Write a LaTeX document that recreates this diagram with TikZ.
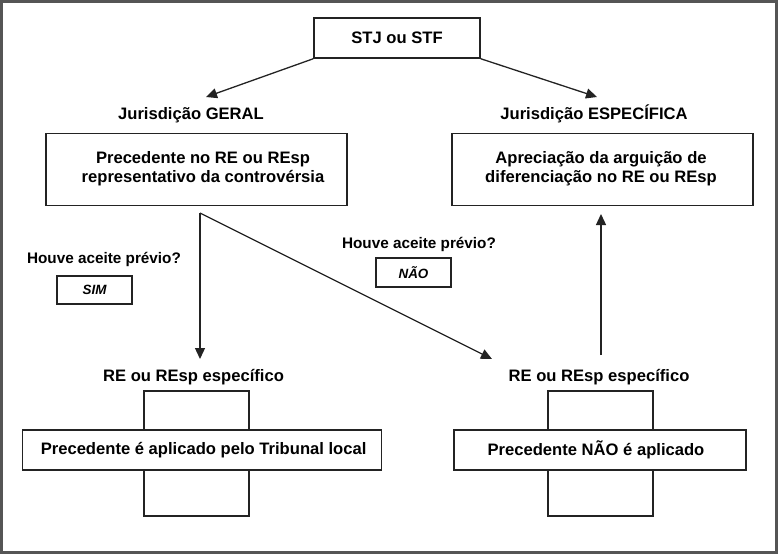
\documentclass[tikz,border=0pt]{standalone}
\usepackage{fontspec}
\setmainfont{Liberation Sans}
\usetikzlibrary{arrows.meta}
\definecolor{frame}{RGB}{85,85,85}
\definecolor{ink}{RGB}{35,35,35}
\begin{document}
\begin{tikzpicture}[x=1pt,y=-1pt,
  box/.style={draw=ink,line width=1.5pt,fill=white,inner sep=0pt},
  txt/.style={inner sep=0pt,font=\fontsize{16.6}{19}\selectfont\bfseries,text=black},
  small/.style={inner sep=0pt,font=\fontsize{15.3}{18}\selectfont\bfseries,text=black},
  ans/.style={box,font=\fontsize{13.4}{16}\selectfont\bfseries\itshape},
  arr/.style={draw=ink,line width=1.3pt,-{Triangle[length=11pt,width=10pt]}}]
\useasboundingbox (0,0) rectangle (778,554);
\draw[frame,line width=3pt] (1.5,1.5) rectangle (776.5,552.5);

% top
\node[box,txt,minimum width=166pt,minimum height=40pt] (stj) at (397,38) {STJ ou STF};
\coordinate (tipG) at (206,97);
\coordinate (tipE) at (597,97);
\draw[arr] (stj.south west) -- (tipG);
\draw[arr] (stj.south east) -- (tipE);

\node[txt,anchor=base] (geral) at (191,119) {Jurisdição GERAL};
\node[txt,anchor=base] (espec) at (594,119) {Jurisdição ESPECÍFICA};

% second row boxes
\node[box,minimum width=301pt,minimum height=72pt] (prec) at (196.5,169.5) {};
\node[txt,align=center] (prectxt) at (203,169) {Precedente no RE ou REsp\\representativo da controvérsia};
\node[box,minimum width=301pt,minimum height=72pt] (apre) at (602.5,169.5) {};
\node[txt,align=center] (apretxt) at (601,169) {Apreciação da arguição de\\diferenciação no RE ou REsp};

% questions
\node[small,anchor=base] (q1) at (104,263.5) {Houve aceite prévio?};
\node[ans,minimum width=75pt,minimum height=28pt] (sim) at (94.5,290) {SIM};
\node[small,anchor=base] (q2) at (419,248.5) {Houve aceite prévio?};
\node[ans,minimum width=75pt,minimum height=29pt] (nao) at (413.5,272.5) {NÃO};

% arrows from the precedent
\coordinate (split) at (200,213);
\coordinate (tipA) at (200,359);
\coordinate (tipB) at (492,359);
\draw[arr] (split) -- (tipA);
\draw[arr] (split) -- (tipB);
\coordinate (upstart) at (601,355);
\coordinate (upend) at (601,214);
\draw[arr] (upstart) -- (upend);

% bottom labels
\node[txt,anchor=base] (re1) at (193.5,381) {RE ou REsp específico};
\node[txt,anchor=base] (re2) at (599,381) {RE ou REsp específico};

% left cross
\node[box,minimum width=105pt,minimum height=125pt] (v1) at (196.5,453.5) {};
\node[box,minimum width=359pt,minimum height=40pt] (h1) at (202,450) {};
\node[txt] (h1txt) at (203.6,450) {Precedente é aplicado pelo Tribunal local};

% right cross
\node[box,minimum width=105pt,minimum height=125pt] (v2) at (600.5,453.5) {};
\node[box,minimum width=292pt,minimum height=40pt] (h2) at (600,450) {};
\node[txt] (h2txt) at (596,450) {Precedente NÃO é aplicado};
\end{tikzpicture}
\end{document}
